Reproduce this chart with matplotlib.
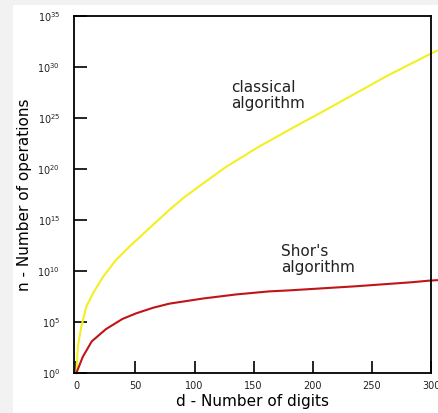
import numpy as np
import matplotlib.pyplot as plt
from matplotlib.patches import Rectangle

# digits d and log10 of number of operations
d_classical = [0, 1.3, 4.1, 8.4, 14, 22.4, 33.7, 45, 59, 78.7, 89.9, 105,
               126.5, 154.6, 185.6, 208, 236, 264, 298, 305]
log_classical = [0, 2.6, 4.5, 6.5, 7.8, 9.4, 11.1, 12.4, 13.9, 16.0, 17.1,
                 18.4, 20.2, 22.2, 24.2, 25.6, 27.4, 29.2, 31.2, 31.6]

d_shor = [0, 5.5, 13, 25, 39, 50.6, 65, 78.7, 107, 135, 163, 180, 236, 284,
          298, 305]
log_shor = [0, 1.6, 3.1, 4.3, 5.3, 5.85, 6.4, 6.8, 7.3, 7.7, 8.0, 8.1, 8.5,
            8.9, 9.05, 9.1]

y_ticks = [0, 5, 10, 15, 20, 25, 30, 35]
x_ticks = [0, 50, 100, 150, 200, 250, 300]

fig = plt.figure(figsize=(4.38, 4.13), dpi=100, facecolor='#f2f2f2')
fig.patches.append(Rectangle((13 / 438, 0), 1, (413 - 5) / 413,
                             transform=fig.transFigure, facecolor='white',
                             edgecolor='none', zorder=-10))

ax = fig.add_axes([74 / 438, 40 / 413, 357 / 438, 357 / 413])
ax.set_facecolor('white')

ax.plot(d_classical, 10.0 ** np.array(log_classical), color='#f4ef1e',
        lw=1.5, clip_on=False)
ax.plot(d_shor, 10.0 ** np.array(log_shor), color='#c01418',
        lw=1.5, clip_on=False)

ax.set_yscale('log')
ax.set_ylim(1, 1e35)
ax.set_xlim(-2, 300)
ax.set_yticks([10.0 ** t for t in y_ticks])
ax.set_yticklabels([f'$10^{{{t}}}$' for t in y_ticks])
ax.minorticks_off()
ax.set_xticks(x_ticks)

ax.tick_params(direction='in', length=9, width=1.2, labelsize=7,
               labelcolor='#222222', right=False, top=False)
ax.tick_params(axis='y', pad=10)
ax.tick_params(axis='x', pad=6)
for s in ax.spines.values():
    s.set_linewidth(1.3)

ax.set_xlabel('d - Number of digits', fontsize=11, labelpad=2)
ax.set_ylabel('n - Number of operations', fontsize=11, labelpad=4)

ax.text(131, 10 ** 28.7, 'classical\nalgorithm', fontsize=11,
        va='top', ha='left', color='#222222', linespacing=1.05)
ax.text(173, 10 ** 12.6, "Shor's\nalgorithm", fontsize=11,
        va='top', ha='left', color='#222222', linespacing=1.05)

fig.savefig('out.png', dpi=100, facecolor=fig.get_facecolor())
